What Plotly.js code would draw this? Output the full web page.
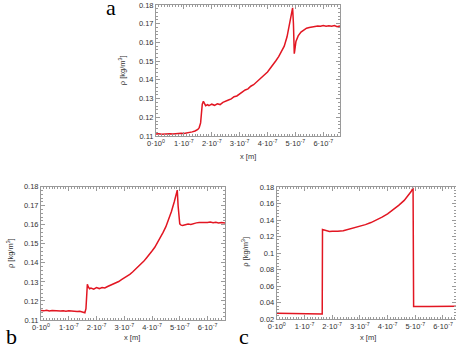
<!DOCTYPE html>
<html>
<head>
<meta charset="utf-8">
<script src="https://cdn.plot.ly/plotly-3.0.1.min.js"></script>
<style>html,body{margin:0;padding:0;background:#fff;}#chart{width:456px;height:349px;}</style>
</head>
<body>
<div id="chart"></div>
<script>
// x positions in units of 1e-7 m, density in kg/m^3
const xA = [0,0.1,0.2,0.3,0.4,0.5,0.6,0.7,0.8,0.9,1.0,1.1,1.2,1.3,1.4,1.5,1.55,1.6,1.63,1.66,1.70,1.74,1.78,1.85,1.9,2.0,2.1,2.2,2.3,2.4,2.5,2.6,2.7,2.8,2.9,3.0,3.1,3.2,3.3,3.4,3.5,3.6,3.7,3.8,3.9,4.0,4.1,4.2,4.3,4.4,4.5,4.6,4.7,4.8,4.85,4.9,4.93,4.96,4.98,5.02,5.1,5.2,5.3,5.4,5.5,5.6,5.7,5.8,5.9,6.0,6.1,6.2,6.3,6.4,6.5,6.6];
const rhoA = [0.1110,0.1112,0.1109,0.1111,0.1110,0.1112,0.1111,0.1113,0.1112,0.1115,0.1114,0.1116,0.1118,0.1122,0.1127,0.1135,0.1145,0.1170,0.1220,0.1270,0.1285,0.1270,0.1262,0.1268,0.1262,0.1270,0.1264,0.1272,0.1268,0.1280,0.1284,0.1292,0.1298,0.1310,0.1314,0.1325,0.1332,0.1346,0.1352,0.1366,0.1374,0.1388,0.1398,0.1414,0.1428,0.1442,0.1462,0.1480,0.1502,0.1524,0.1550,0.1580,0.1630,0.1710,0.1750,0.1785,0.1700,0.1540,0.1560,0.1605,0.1635,0.1655,0.1668,0.1676,0.1680,0.1684,0.1685,0.1688,0.1686,0.1690,0.1687,0.1689,0.1686,0.1690,0.1684,0.1688];

const xB = [0,0.1,0.2,0.3,0.4,0.5,0.6,0.7,0.8,0.9,1.0,1.1,1.2,1.3,1.4,1.5,1.58,1.62,1.64,1.67,1.70,1.75,1.8,1.9,2.0,2.1,2.2,2.3,2.4,2.5,2.6,2.7,2.8,2.9,3.0,3.1,3.2,3.3,3.4,3.5,3.6,3.7,3.8,3.9,4.0,4.1,4.2,4.3,4.4,4.5,4.6,4.7,4.8,4.87,4.91,4.94,4.97,5.0,5.05,5.1,5.2,5.3,5.4,5.5,5.6,5.7,5.8,5.9,6.0,6.1,6.2,6.3,6.4,6.5,6.63];
const rhoB = [0.1150,0.1148,0.1151,0.1147,0.1150,0.1148,0.1149,0.1147,0.1148,0.1146,0.1148,0.1146,0.1147,0.1145,0.1146,0.1143,0.1138,0.1160,0.1250,0.1288,0.1275,0.1264,0.1268,0.1262,0.1270,0.1265,0.1271,0.1268,0.1276,0.1282,0.1288,0.1294,0.1302,0.1312,0.1320,0.1330,0.1340,0.1352,0.1366,0.1378,0.1394,0.1408,0.1426,0.1442,0.1462,0.1482,0.1506,0.1532,0.1560,0.1590,0.1625,0.1670,0.1720,0.1765,0.1782,0.1700,0.1620,0.1605,0.1598,0.1596,0.1600,0.1604,0.1602,0.1607,0.1610,0.1612,0.1611,0.1613,0.1612,0.1614,0.1611,0.1613,0.1610,0.1612,0.1609];

const xC = [0,0.5,1.0,1.5,1.64,1.65,1.7,1.8,1.9,2.0,2.2,2.4,2.6,2.8,3.0,3.2,3.4,3.6,3.8,4.0,4.2,4.4,4.6,4.75,4.85,4.92,4.94,5.5,6.0,6.5];
const rhoC = [0.0272,0.0270,0.0268,0.0266,0.0265,0.1285,0.1280,0.1265,0.1262,0.1266,0.1264,0.1272,0.1290,0.1305,0.1325,0.1345,0.1370,0.1400,0.1435,0.1475,0.1525,0.1578,0.1638,0.1695,0.1745,0.1790,0.0355,0.0356,0.0357,0.0357];

const tickVals = [0,1,2,3,4,5,6];
const tickText = ['0·10<sup>0</sup>','1·10<sup>-7</sup>','2·10<sup>-7</sup>','3·10<sup>-7</sup>','4·10<sup>-7</sup>','5·10<sup>-7</sup>','6·10<sup>-7</sup>'];
const toMeters = a => a.map(v => v * 1e-7);

const red = 'rgb(226,22,34)';
const frame = '#9a9a9a';
const tickFont = {family: 'Liberation Sans, Arial, sans-serif', size: 7.5, color: '#333'};

function xax(domain, range, anchor) {
  return {
    domain: domain, range: range.map(v => v * 1e-7), anchor: anchor,
    tickvals: toMeters(tickVals), ticktext: tickText,
    showline: true, linecolor: frame, linewidth: 1, mirror: 'allticks',
    ticks: 'inside', ticklen: 4, tickcolor: frame, tickwidth: 1,
    minor: {ticks: 'inside', ticklen: 2, dtick: 0.1e-7, tickcolor: frame, tickwidth: 1},
    showgrid: false, zeroline: false, tickfont: tickFont
  };
}
function yax(domain, range, dtick, mdtick, anchor) {
  return {
    domain: domain, range: range, anchor: anchor,
    dtick: dtick, tick0: 0,
    showline: true, linecolor: frame, linewidth: 1, mirror: 'allticks',
    ticks: 'inside', ticklen: 4, tickcolor: frame, tickwidth: 1,
    minor: {ticks: 'inside', ticklen: 2, dtick: mdtick, tickcolor: frame, tickwidth: 1},
    showgrid: false, zeroline: false, tickfont: tickFont
  };
}

const W = 456, H = 349;
const px = v => v / W, py = v => 1 - v / H;

const traces = [
  {x: toMeters(xA), y: rhoA, xaxis: 'x', yaxis: 'y', mode: 'lines', line: {color: red, width: 1.5}, hoverinfo: 'skip'},
  {x: toMeters(xB), y: rhoB, xaxis: 'x2', yaxis: 'y2', mode: 'lines', line: {color: red, width: 1.5}, hoverinfo: 'skip'},
  {x: toMeters(xC), y: rhoC, xaxis: 'x3', yaxis: 'y3', mode: 'lines', line: {color: red, width: 1.5}, hoverinfo: 'skip'}
];

const axFont = {family: 'Liberation Sans, Arial, sans-serif', size: 7.5, color: '#333'};
const letterFont = {family: 'Liberation Serif, Times New Roman, serif', size: 22, color: '#000'};
const ytitle = 'ρ [kg/m<sup>3</sup>]';

const layout = {
  width: W, height: H,
  margin: {l: 0, r: 0, t: 0, b: 0},
  paper_bgcolor: '#fff', plot_bgcolor: '#fff',
  showlegend: false,
  xaxis: xax([px(156), px(340)], [0, 6.6], 'y'),
  yaxis: yax([py(136), py(5)], [0.11, 0.18], 0.01, 0.002, 'x'),
  xaxis2: xax([px(41), px(225)], [0, 6.63], 'y2'),
  yaxis2: yax([py(320), py(186.7)], [0.11, 0.18], 0.01, 0.002, 'x2'),
  xaxis3: xax([px(276.8), 1], [0, 6.47], 'y3'),
  yaxis3: yax([py(319.3), py(187)], [0.02, 0.18], 0.02, 0.004, 'x3'),
  annotations: [
    {text: ytitle, x: px(121.7), y: py(70.5), xref: 'paper', yref: 'paper', textangle: -90, showarrow: false, font: axFont, xanchor: 'center', yanchor: 'middle'},
    {text: ytitle, x: px(10), y: py(253), xref: 'paper', yref: 'paper', textangle: -90, showarrow: false, font: axFont, xanchor: 'center', yanchor: 'middle'},
    {text: ytitle, x: px(244.7), y: py(252), xref: 'paper', yref: 'paper', textangle: -90, showarrow: false, font: axFont, xanchor: 'center', yanchor: 'middle'},
    {text: 'x [m]', x: px(247.5), y: py(156), xref: 'paper', yref: 'paper', showarrow: false, font: axFont, xanchor: 'center', yanchor: 'middle'},
    {text: 'x [m]', x: px(132), y: py(337), xref: 'paper', yref: 'paper', showarrow: false, font: axFont, xanchor: 'center', yanchor: 'middle'},
    {text: 'x [m]', x: px(368), y: py(337), xref: 'paper', yref: 'paper', showarrow: false, font: axFont, xanchor: 'center', yanchor: 'middle'},
    {text: 'a', x: px(111), y: py(7.5), xref: 'paper', yref: 'paper', showarrow: false, font: letterFont, xanchor: 'center', yanchor: 'middle'},
    {text: 'b', x: px(11.5), y: py(336), xref: 'paper', yref: 'paper', showarrow: false, font: letterFont, xanchor: 'center', yanchor: 'middle'},
    {text: 'c', x: px(244), y: py(336), xref: 'paper', yref: 'paper', showarrow: false, font: letterFont, xanchor: 'center', yanchor: 'middle'}
  ]
};

Plotly.newPlot('chart', traces, layout, {staticPlot: true, displayModeBar: false});
</script>
</body>
</html>
